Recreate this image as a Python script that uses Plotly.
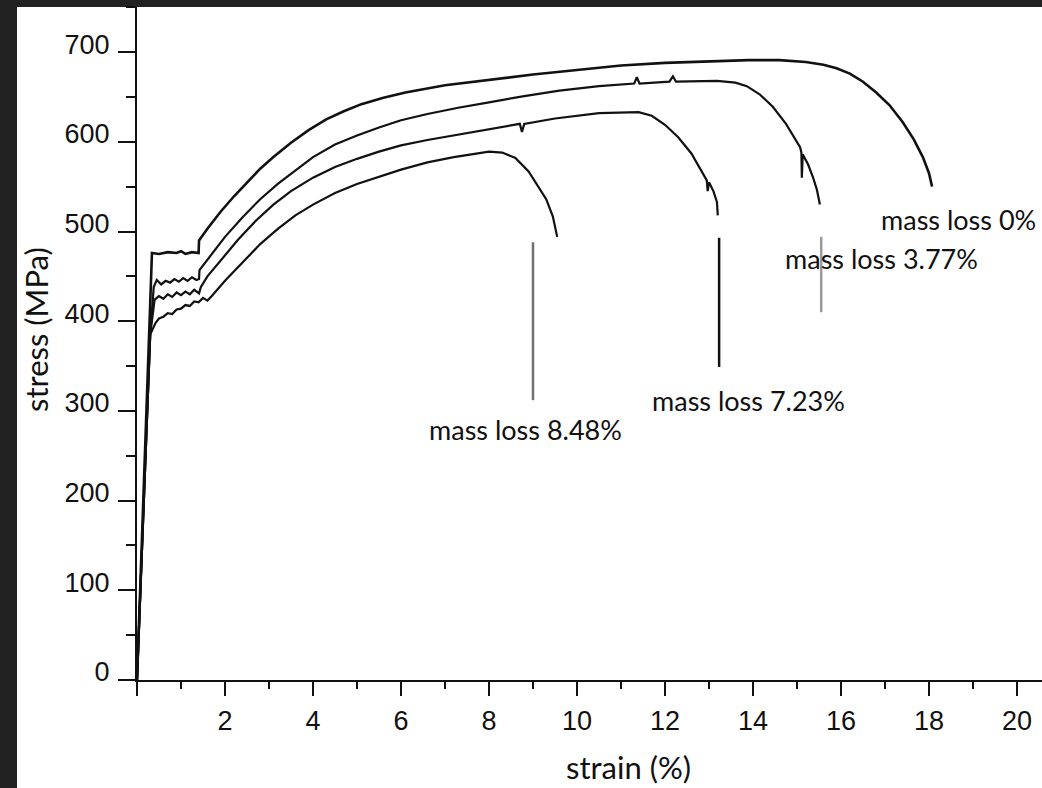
import plotly.graph_objects as go

# ---- data (strain %, stress MPa) ----
strain_ml0 = [0, 0.34, 0.5, 0.7, 0.9, 1.0, 1.1, 1.25, 1.4, 1.41, 1.6, 1.9, 2.2, 2.5, 2.8,
              3.1, 3.5, 3.9, 4.3, 4.7, 5.1, 5.6, 6.1, 7.0, 8.0, 9.0, 10.0, 11.0, 12.0, 13.0,
              13.9, 14.6, 15.2, 15.6, 15.9, 16.2, 16.5, 16.8, 17.1, 17.4, 17.65, 17.86,
              18.0, 18.07]
stress_ml0 = [0, 476, 475, 477, 476, 478, 475, 477, 476, 490, 503, 522, 539, 555, 570,
              583, 599, 613, 625, 634, 642, 649, 655, 663, 669, 675, 680, 685, 688, 690,
              691, 691, 689, 686, 682, 676, 667, 655, 641, 622, 603, 583,
              565, 550]

strain_ml377 = [0, 0.30, 0.38, 0.45, 0.55, 0.65, 0.75, 0.85, 0.95, 1.05, 1.15, 1.25, 1.35,
                1.41, 1.42, 1.66, 2.0, 2.4, 2.8, 3.2, 3.6, 4.0, 4.5, 5.0, 5.5, 6.0, 6.6,
                7.3, 8.0, 8.8, 9.6, 10.5, 11.3, 11.36, 11.42, 12.1, 12.18, 12.25, 13.18,
                13.6, 13.86, 14.15, 14.45, 14.75, 15.07, 15.1, 15.11, 15.13, 15.25, 15.36,
                15.45, 15.52]
stress_ml377 = [0, 385, 438, 446, 441, 445, 443, 447, 444, 448, 445, 449, 446,
                447, 457, 472, 494, 516, 536, 553, 568, 583, 597, 607, 616, 624, 631,
                638, 644, 651, 657, 662, 665, 672, 665, 667, 673, 667, 668,
                666, 662, 653, 639, 620, 594, 588, 560, 586, 575, 561,
                547, 530]

strain_ml723 = [0, 0.30, 0.40, 0.5, 0.6, 0.7, 0.8, 0.9, 1.0, 1.1, 1.2, 1.3, 1.41, 1.45,
                1.6, 1.96, 2.3, 2.7, 3.1, 3.5, 4.0, 4.5, 5.0, 5.5, 6.0, 6.6, 7.3, 8.0, 8.7,
                8.75, 8.8, 9.5, 10.5, 11.4, 11.7, 12.0, 12.3, 12.6, 12.95, 12.97, 13.0,
                13.1, 13.18, 13.2]
stress_ml723 = [0, 385, 424, 428, 425, 430, 427, 432, 429, 433, 430, 435, 431, 438,
                450, 471, 491, 512, 530, 545, 560, 572, 581, 589, 596, 602, 608, 614, 620,
                611, 620, 626, 632, 633, 629, 619, 605, 587, 557, 545, 555,
                545, 533, 518]

strain_ml848 = [0, 0.30, 0.42, 0.5, 0.6, 0.7, 0.8, 0.9, 1.0, 1.1, 1.2, 1.3, 1.4, 1.5, 1.6,
                1.7, 2.0, 2.4, 2.8, 3.2, 3.6, 4.0, 4.5, 5.0, 5.5, 6.0, 6.6, 7.2, 7.6, 8.0,
                8.3, 8.6, 8.9, 9.1, 9.3, 9.45, 9.55]
stress_ml848 = [0, 385, 398, 403, 405, 409, 408, 413, 414, 418, 417, 422, 421, 426, 423,
                428, 445, 466, 486, 503, 518, 530, 543, 553, 561, 569, 577, 583, 586, 589,
                588, 582, 567, 552, 536, 517, 494]

label_text = ["mass loss 0%", "mass loss 3.77%", "mass loss 7.23%", "mass loss 8.48%"]
label_x = [18.66, 16.93, 13.89, 8.84]
label_y = [513, 470, 312, 279]

pointer_x = [15.55, 13.23, 9.0]
pointer_bottom = [410, 349, 312]
pointer_top = [494, 493, 488]
pointer_color = ["#9a9a9a", "#111111", "#707070"]

x_ticks = [0, 2, 4, 6, 8, 10, 12, 14, 16, 18, 20]
x_ticktext = ["", "2", "4", "6", "8", "10", "12", "14", "16", "18", "20"]
y_ticks = [0, 100, 200, 300, 400, 500, 600, 700]

# ---- figure ----
W, H = 1042, 788
L, R, T, B = 137, 0, 7, 108
pw, ph = W - L - R, H - T - B

fig = go.Figure()
curves = [(strain_ml0, stress_ml0, 2.6), (strain_ml377, stress_ml377, 2.2),
          (strain_ml723, stress_ml723, 2.2), (strain_ml848, stress_ml848, 2.2)]
for xs, ys, w in curves:
    fig.add_trace(go.Scatter(x=xs, y=ys, mode="lines",
                             line=dict(color="#111111", width=w),
                             hoverinfo="skip", showlegend=False))

for px_, y0, y1, c in zip(pointer_x, pointer_bottom, pointer_top, pointer_color):
    fig.add_trace(go.Scatter(x=[px_, px_], y=[y0, y1], mode="lines",
                             line=dict(color=c, width=2.5),
                             hoverinfo="skip", showlegend=False))

label_font = dict(family="Lato, 'Open Sans', sans-serif", size=27, color="#111111")
title_font = dict(family="Lato, 'Open Sans', sans-serif", size=31, color="#111111")
for t, x, y in zip(label_text, label_x, label_y):
    fig.add_annotation(x=x, y=y, xref="x", yref="y", text=t, showarrow=False,
                       font=label_font, xanchor="center", yanchor="middle")

def px2paper_x(p):
    return (p - L) / pw

def px2paper_y(p):
    return (H - B - p) / ph

fig.add_annotation(x=px2paper_x(628), y=px2paper_y(767), xref="paper", yref="paper",
                   text="strain (%)", showarrow=False, font=title_font,
                   xanchor="center", yanchor="middle")
fig.add_annotation(x=px2paper_x(36), y=px2paper_y(330), xref="paper", yref="paper",
                   text="stress (MPa)", showarrow=False, font=title_font, textangle=-90,
                   xanchor="center", yanchor="middle")

# white sheet over dark background
fig.add_shape(type="rect", xref="paper", yref="paper",
              x0=px2paper_x(17), x1=px2paper_x(W + 5),
              y0=px2paper_y(H + 5), y1=px2paper_y(7),
              fillcolor="white", line=dict(width=0), layer="below")

tick_font = dict(family="'Liberation Sans', Arial, sans-serif", size=27, color="#111111")

fig.update_xaxes(range=[0, pw / 44.0], showgrid=False, zeroline=False,
                 showline=True, linecolor="#111111", linewidth=2.2,
                 ticks="outside", ticklen=14, tickwidth=2.2, tickcolor="#111111",
                 tickmode="array", tickvals=x_ticks, ticktext=x_ticktext,
                 tickfont=tick_font, ticklabelstandoff=1,
                 minor=dict(ticks="outside", ticklen=7, tickwidth=2.2, tickcolor="#111111",
                            dtick=1, tick0=0, showgrid=False),
                 fixedrange=True)
fig.update_yaxes(range=[0, ph / 0.897], showgrid=False, zeroline=False,
                 showline=True, linecolor="#111111", linewidth=2.2,
                 ticks="outside", ticklen=17, tickwidth=2.2, tickcolor="#111111",
                 tickmode="array", tickvals=y_ticks,
                 tickfont=tick_font, ticklabelstandoff=3, ticklabelshift=-8,
                 minor=dict(ticks="outside", ticklen=9, tickwidth=2.2, tickcolor="#111111",
                            dtick=50, tick0=0, showgrid=False),
                 fixedrange=True)

fig.update_layout(width=W, height=H, margin=dict(l=L, r=R, t=T, b=B, pad=0),
                  paper_bgcolor="#222222", plot_bgcolor="white", showlegend=False)

fig.write_html("out.html", config={"displayModeBar": False})
